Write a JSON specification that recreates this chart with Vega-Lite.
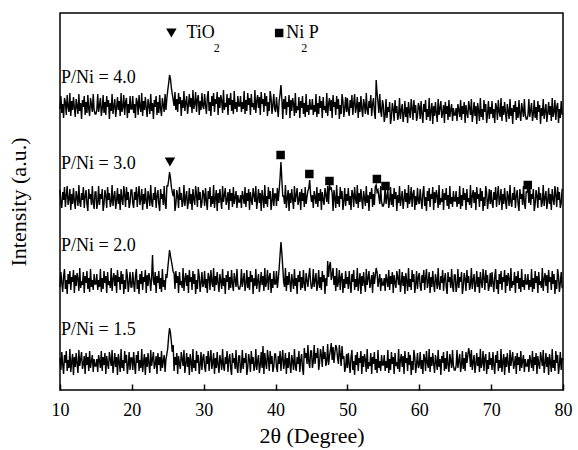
{
"$schema":"https://vega.github.io/schema/vega-lite/v6.json",
"width":503,"height":377,"autosize":"none",
"padding":{"left":60,"top":13,"right":15,"bottom":60},
"background":"white",
"config":{"view":{"stroke":"black","strokeWidth":1.5},"font":"Liberation Serif"},
"datasets":{
"xrd":[
{"x":10,"a":32,"b":103,"c":200,"d":281},{"x":10.125,"a":20,"b":118,"c":187,"d":294},{"x":10.25,"a":38,"b":107,"c":182,"d":277},{"x":10.375,"a":25,"b":98,"c":198,"d":286},{"x":10.5,"a":16,"b":114,"c":190,"d":272},{"x":10.625,"a":35,"b":121,"c":203,"d":292},{"x":10.75,"a":27,"b":101,"c":183,"d":288},{"x":10.875,"a":39,"b":110,"c":195,"d":275},
{"x":11,"a":19,"b":96,"c":204,"d":295},{"x":11.125,"a":30,"b":116,"c":185,"d":283},{"x":11.25,"a":22,"b":106,"c":191,"d":278},{"x":11.375,"a":41,"b":119,"c":201,"d":297},{"x":11.5,"a":18,"b":100,"c":180,"d":274},{"x":11.625,"a":28,"b":113,"c":196,"d":289},{"x":11.75,"a":36,"b":108,"c":186,"d":280},{"x":11.875,"a":15,"b":120,"c":202,"d":293},
{"x":12,"a":33,"b":97,"c":189,"d":282},{"x":12.125,"a":23,"b":115,"c":181,"d":273},{"x":12.25,"a":37,"b":104,"c":199,"d":291},{"x":12.375,"a":26,"b":117,"c":193,"d":284},{"x":12.5,"a":17,"b":111,"c":184,"d":276},{"x":12.625,"a":40,"b":99,"c":205,"d":296},{"x":12.75,"a":24,"b":122,"c":188,"d":279},{"x":12.875,"a":31,"b":102,"c":183,"d":287},
{"x":13,"a":38,"b":109,"c":197,"d":271},{"x":13.125,"a":21,"b":105,"c":190,"d":290},{"x":13.25,"a":26,"b":118,"c":203,"d":283},{"x":13.375,"a":34,"b":97,"c":182,"d":294},{"x":13.5,"a":16,"b":114,"c":194,"d":275},{"x":13.625,"a":37,"b":107,"c":200,"d":288},{"x":13.75,"a":25,"b":119,"c":186,"d":277},{"x":13.875,"a":33,"b":101,"c":179,"d":295},
{"x":14,"a":19,"b":112,"c":201,"d":281},{"x":14.125,"a":39,"b":98,"c":191,"d":274},{"x":14.25,"a":22,"b":121,"c":196,"d":292},{"x":14.375,"a":29,"b":103,"c":185,"d":285},{"x":14.5,"a":35,"b":110,"c":204,"d":278},{"x":14.625,"a":18,"b":100,"c":187,"d":296},{"x":14.75,"a":31,"b":116,"c":181,"d":280},{"x":14.875,"a":24,"b":106,"c":198,"d":276},
{"x":15,"a":24,"b":106,"c":198,"d":276},{"x":15.125,"a":31,"b":116,"c":181,"d":280},{"x":15.25,"a":18,"b":100,"c":187,"d":296},{"x":15.375,"a":35,"b":110,"c":204,"d":278},{"x":15.5,"a":29,"b":103,"c":185,"d":285},{"x":15.625,"a":22,"b":121,"c":196,"d":292},{"x":15.75,"a":39,"b":98,"c":191,"d":274},{"x":15.875,"a":19,"b":112,"c":201,"d":281},
{"x":16,"a":33,"b":101,"c":179,"d":295},{"x":16.125,"a":25,"b":119,"c":186,"d":277},{"x":16.25,"a":37,"b":107,"c":200,"d":288},{"x":16.375,"a":16,"b":114,"c":194,"d":275},{"x":16.5,"a":34,"b":97,"c":182,"d":294},{"x":16.625,"a":26,"b":118,"c":203,"d":283},{"x":16.75,"a":21,"b":105,"c":190,"d":290},{"x":16.875,"a":38,"b":109,"c":197,"d":271},
{"x":17,"a":31,"b":102,"c":183,"d":287},{"x":17.125,"a":24,"b":122,"c":188,"d":279},{"x":17.25,"a":40,"b":99,"c":205,"d":296},{"x":17.375,"a":17,"b":111,"c":184,"d":276},{"x":17.5,"a":26,"b":117,"c":193,"d":284},{"x":17.625,"a":37,"b":104,"c":199,"d":291},{"x":17.75,"a":23,"b":115,"c":181,"d":273},{"x":17.875,"a":33,"b":97,"c":189,"d":282},
{"x":18,"a":15,"b":120,"c":202,"d":293},{"x":18.125,"a":36,"b":108,"c":186,"d":280},{"x":18.25,"a":28,"b":113,"c":196,"d":289},{"x":18.375,"a":18,"b":100,"c":180,"d":274},{"x":18.5,"a":41,"b":119,"c":201,"d":297},{"x":18.625,"a":22,"b":106,"c":191,"d":278},{"x":18.75,"a":30,"b":116,"c":185,"d":283},{"x":18.875,"a":19,"b":96,"c":204,"d":295},
{"x":19,"a":39,"b":110,"c":195,"d":275},{"x":19.125,"a":27,"b":101,"c":183,"d":288},{"x":19.25,"a":35,"b":121,"c":203,"d":292},{"x":19.375,"a":16,"b":114,"c":190,"d":272},{"x":19.5,"a":25,"b":98,"c":198,"d":286},{"x":19.625,"a":38,"b":107,"c":182,"d":277},{"x":19.75,"a":20,"b":118,"c":187,"d":294},{"x":19.875,"a":32,"b":103,"c":200,"d":281},
{"x":20,"a":32,"b":103,"c":200,"d":281},{"x":20.125,"a":20,"b":118,"c":187,"d":294},{"x":20.25,"a":38,"b":107,"c":182,"d":277},{"x":20.375,"a":25,"b":98,"c":198,"d":286},{"x":20.5,"a":16,"b":114,"c":190,"d":272},{"x":20.625,"a":35,"b":121,"c":203,"d":292},{"x":20.75,"a":27,"b":101,"c":183,"d":288},{"x":20.875,"a":39,"b":110,"c":195,"d":275},
{"x":21,"a":19,"b":96,"c":204,"d":295},{"x":21.125,"a":30,"b":116,"c":185,"d":283},{"x":21.25,"a":22,"b":106,"c":191,"d":278},{"x":21.375,"a":41,"b":119,"c":201,"d":297},{"x":21.5,"a":18,"b":100,"c":180,"d":274},{"x":21.625,"a":28,"b":113,"c":196,"d":289},{"x":21.75,"a":36,"b":108,"c":186,"d":280},{"x":21.875,"a":15,"b":120,"c":202,"d":293},
{"x":22,"a":33,"b":97,"c":189,"d":282},{"x":22.125,"a":23,"b":115,"c":181,"d":273},{"x":22.25,"a":37,"b":104,"c":199,"d":291},{"x":22.375,"a":26,"b":117,"c":193,"d":284},{"x":22.5,"a":17,"b":111,"c":184,"d":276},{"x":22.625,"a":40,"b":99,"c":205,"d":296},{"x":22.75,"a":24,"b":112,"c":188,"d":279},{"x":22.875,"a":31,"b":135,"c":183,"d":287},
{"x":23,"a":38,"b":109,"c":197,"d":271},{"x":23.125,"a":21,"b":105,"c":190,"d":290},{"x":23.25,"a":26,"b":118,"c":203,"d":283},{"x":23.375,"a":34,"b":97,"c":182,"d":294},{"x":23.5,"a":16,"b":114,"c":194,"d":275},{"x":23.625,"a":37,"b":107,"c":200,"d":288},{"x":23.75,"a":25,"b":119,"c":186,"d":277},{"x":23.875,"a":33,"b":101,"c":179,"d":295},
{"x":24,"a":19,"b":112,"c":201,"d":281},{"x":24.125,"a":39,"b":98,"c":191,"d":274},{"x":24.25,"a":22,"b":121,"c":196,"d":292},{"x":24.375,"a":29,"b":103,"c":185,"d":285},{"x":24.5,"a":35,"b":110,"c":204,"d":278},{"x":24.625,"a":18,"b":100,"c":187,"d":296},{"x":24.75,"a":31,"b":116,"c":181,"d":280},{"x":24.875,"a":36,"b":112,"c":204,"d":292},
{"x":25,"a":42,"b":122,"c":204,"d":300},{"x":25.125,"a":54,"b":131,"c":210,"d":307},{"x":25.25,"a":62,"b":140,"c":218,"d":315},{"x":25.375,"a":57,"b":134,"c":212,"d":311},{"x":25.5,"a":48,"b":129,"c":203,"d":302},{"x":25.625,"a":38,"b":124,"c":198,"d":296},{"x":25.75,"a":45,"b":118,"c":194,"d":290},{"x":25.875,"a":19,"b":117,"c":201,"d":284},
{"x":26,"a":33,"b":101,"c":179,"d":298},{"x":26.125,"a":25,"b":119,"c":186,"d":280},{"x":26.25,"a":37,"b":107,"c":200,"d":291},{"x":26.375,"a":16,"b":114,"c":194,"d":278},{"x":26.5,"a":34,"b":97,"c":182,"d":297},{"x":26.625,"a":26,"b":118,"c":203,"d":286},{"x":26.75,"a":21,"b":105,"c":190,"d":293},{"x":26.875,"a":38,"b":109,"c":197,"d":274},
{"x":27,"a":31,"b":102,"c":183,"d":290},{"x":27.125,"a":24,"b":122,"c":188,"d":282},{"x":27.25,"a":40,"b":99,"c":205,"d":299},{"x":27.375,"a":17,"b":111,"c":184,"d":279},{"x":27.5,"a":26,"b":117,"c":193,"d":287},{"x":27.625,"a":37,"b":104,"c":199,"d":294},{"x":27.75,"a":23,"b":115,"c":181,"d":276},{"x":27.875,"a":33,"b":97,"c":189,"d":285},
{"x":28,"a":15,"b":120,"c":202,"d":296},{"x":28.125,"a":36,"b":108,"c":186,"d":283},{"x":28.25,"a":28,"b":113,"c":196,"d":292},{"x":28.375,"a":18,"b":100,"c":180,"d":277},{"x":28.5,"a":41,"b":119,"c":201,"d":300},{"x":28.625,"a":22,"b":106,"c":191,"d":281},{"x":28.75,"a":30,"b":116,"c":185,"d":286},{"x":28.875,"a":19,"b":96,"c":204,"d":298},
{"x":29,"a":39,"b":110,"c":195,"d":278},{"x":29.125,"a":27,"b":101,"c":183,"d":291},{"x":29.25,"a":35,"b":121,"c":203,"d":295},{"x":29.375,"a":16,"b":114,"c":190,"d":275},{"x":29.5,"a":25,"b":98,"c":198,"d":289},{"x":29.625,"a":38,"b":107,"c":182,"d":280},{"x":29.75,"a":20,"b":118,"c":187,"d":297},{"x":29.875,"a":32,"b":103,"c":200,"d":284},
{"x":30,"a":36,"b":106,"c":196,"d":281},{"x":30.125,"a":23,"b":119,"c":184,"d":296},{"x":30.25,"a":18,"b":102,"c":202,"d":285},{"x":30.375,"a":34,"b":111,"c":189,"d":276},{"x":30.5,"a":26,"b":97,"c":180,"d":292},{"x":30.625,"a":39,"b":117,"c":199,"d":299},{"x":30.75,"a":19,"b":113,"c":191,"d":279},{"x":30.875,"a":31,"b":100,"c":203,"d":288},
{"x":31,"a":40,"b":120,"c":183,"d":274},{"x":31.125,"a":21,"b":108,"c":194,"d":294},{"x":31.25,"a":27,"b":103,"c":186,"d":284},{"x":31.375,"a":37,"b":122,"c":205,"d":297},{"x":31.5,"a":16,"b":99,"c":182,"d":278},{"x":31.625,"a":32,"b":114,"c":192,"d":291},{"x":31.75,"a":22,"b":105,"c":200,"d":286},{"x":31.875,"a":38,"b":118,"c":179,"d":298},
{"x":32,"a":25,"b":107,"c":197,"d":275},{"x":32.125,"a":17,"b":98,"c":187,"d":293},{"x":32.25,"a":35,"b":116,"c":201,"d":282},{"x":32.375,"a":29,"b":109,"c":190,"d":295},{"x":32.5,"a":20,"b":101,"c":181,"d":289},{"x":32.625,"a":41,"b":121,"c":204,"d":277},{"x":32.75,"a":24,"b":104,"c":188,"d":300},{"x":32.875,"a":19,"b":112,"c":195,"d":280},
{"x":33,"a":33,"b":96,"c":202,"d":287},{"x":33.125,"a":26,"b":115,"c":185,"d":283},{"x":33.25,"a":39,"b":108,"c":190,"d":296},{"x":33.375,"a":18,"b":119,"c":198,"d":275},{"x":33.5,"a":30,"b":100,"c":180,"d":292},{"x":33.625,"a":36,"b":113,"c":201,"d":285},{"x":33.75,"a":22,"b":102,"c":189,"d":297},{"x":33.875,"a":15,"b":120,"c":197,"d":279},
{"x":34,"a":37,"b":106,"c":183,"d":290},{"x":34.125,"a":27,"b":99,"c":203,"d":276},{"x":34.25,"a":32,"b":117,"c":186,"d":299},{"x":34.375,"a":21,"b":110,"c":193,"d":281},{"x":34.5,"a":40,"b":103,"c":199,"d":288},{"x":34.625,"a":23,"b":121,"c":182,"d":278},{"x":34.75,"a":17,"b":105,"c":195,"d":294},{"x":34.875,"a":34,"b":101,"c":188,"d":284},
{"x":35,"a":34,"b":101,"c":188,"d":284},{"x":35.125,"a":17,"b":105,"c":195,"d":294},{"x":35.25,"a":23,"b":121,"c":182,"d":278},{"x":35.375,"a":40,"b":103,"c":199,"d":288},{"x":35.5,"a":21,"b":110,"c":193,"d":281},{"x":35.625,"a":32,"b":117,"c":186,"d":299},{"x":35.75,"a":27,"b":99,"c":203,"d":276},{"x":35.875,"a":37,"b":106,"c":183,"d":290},
{"x":36,"a":15,"b":120,"c":197,"d":279},{"x":36.125,"a":22,"b":102,"c":189,"d":297},{"x":36.25,"a":36,"b":113,"c":201,"d":285},{"x":36.375,"a":30,"b":100,"c":180,"d":292},{"x":36.5,"a":18,"b":119,"c":198,"d":275},{"x":36.625,"a":39,"b":108,"c":190,"d":296},{"x":36.75,"a":26,"b":115,"c":185,"d":283},{"x":36.875,"a":33,"b":96,"c":202,"d":287},
{"x":37,"a":19,"b":112,"c":195,"d":280},{"x":37.125,"a":24,"b":104,"c":188,"d":300},{"x":37.25,"a":41,"b":121,"c":204,"d":277},{"x":37.375,"a":20,"b":101,"c":181,"d":289},{"x":37.5,"a":29,"b":109,"c":190,"d":295},{"x":37.625,"a":35,"b":116,"c":201,"d":282},{"x":37.75,"a":17,"b":98,"c":187,"d":293},{"x":37.875,"a":25,"b":107,"c":197,"d":275},
{"x":38,"a":38,"b":118,"c":179,"d":298},{"x":38.125,"a":22,"b":105,"c":200,"d":286},{"x":38.25,"a":44,"b":114,"c":192,"d":291},{"x":38.375,"a":16,"b":99,"c":182,"d":278},{"x":38.5,"a":37,"b":122,"c":205,"d":297},{"x":38.625,"a":27,"b":103,"c":186,"d":284},{"x":38.75,"a":21,"b":108,"c":194,"d":294},{"x":38.875,"a":40,"b":120,"c":183,"d":274},
{"x":39,"a":31,"b":100,"c":203,"d":288},{"x":39.125,"a":19,"b":113,"c":191,"d":279},{"x":39.25,"a":39,"b":117,"c":199,"d":299},{"x":39.375,"a":26,"b":97,"c":180,"d":292},{"x":39.5,"a":34,"b":111,"c":189,"d":276},{"x":39.625,"a":18,"b":102,"c":202,"d":285},{"x":39.75,"a":23,"b":119,"c":184,"d":296},{"x":39.875,"a":36,"b":106,"c":196,"d":281},
{"x":40,"a":36,"b":106,"c":196,"d":278},{"x":40.125,"a":23,"b":119,"c":184,"d":293},{"x":40.25,"a":18,"b":102,"c":202,"d":282},{"x":40.375,"a":34,"b":111,"c":189,"d":273},{"x":40.5,"a":26,"b":122,"c":200,"d":289},{"x":40.625,"a":39,"b":135,"c":212,"d":296},{"x":40.75,"a":19,"b":148,"c":228,"d":305},{"x":40.875,"a":31,"b":137,"c":210,"d":291},
{"x":41,"a":40,"b":123,"c":194,"d":271},{"x":41.125,"a":21,"b":108,"c":194,"d":291},{"x":41.25,"a":27,"b":103,"c":186,"d":281},{"x":41.375,"a":37,"b":122,"c":205,"d":294},{"x":41.5,"a":16,"b":99,"c":182,"d":275},{"x":41.625,"a":32,"b":114,"c":192,"d":288},{"x":41.75,"a":22,"b":105,"c":200,"d":283},{"x":41.875,"a":38,"b":118,"c":179,"d":295},
{"x":42,"a":25,"b":107,"c":197,"d":272},{"x":42.125,"a":17,"b":98,"c":187,"d":290},{"x":42.25,"a":35,"b":116,"c":201,"d":279},{"x":42.375,"a":29,"b":109,"c":190,"d":292},{"x":42.5,"a":20,"b":101,"c":181,"d":286},{"x":42.625,"a":41,"b":121,"c":204,"d":274},{"x":42.75,"a":24,"b":104,"c":188,"d":297},{"x":42.875,"a":19,"b":112,"c":195,"d":277},
{"x":43,"a":33,"b":96,"c":202,"d":284},{"x":43.125,"a":26,"b":115,"c":185,"d":280},{"x":43.25,"a":39,"b":108,"c":190,"d":293},{"x":43.375,"a":18,"b":119,"c":198,"d":272},{"x":43.5,"a":30,"b":100,"c":180,"d":289},{"x":43.625,"a":36,"b":113,"c":201,"d":282},{"x":43.75,"a":22,"b":102,"c":189,"d":294},{"x":43.875,"a":15,"b":120,"c":197,"d":276},
{"x":44,"a":42,"b":106,"c":183,"d":287},{"x":44.125,"a":32,"b":99,"c":203,"d":273},{"x":44.25,"a":37,"b":117,"c":186,"d":296},{"x":44.375,"a":26,"b":110,"c":193,"d":278},{"x":44.5,"a":45,"b":103,"c":199,"d":285},{"x":44.625,"a":28,"b":114,"c":202,"d":275},{"x":44.75,"a":22,"b":122,"c":210,"d":291},{"x":44.875,"a":39,"b":108,"c":196,"d":281},
{"x":45,"a":39,"b":101,"c":188,"d":281},{"x":45.125,"a":22,"b":105,"c":195,"d":291},{"x":45.25,"a":28,"b":121,"c":182,"d":275},{"x":45.375,"a":45,"b":103,"c":199,"d":285},{"x":45.5,"a":26,"b":110,"c":193,"d":278},{"x":45.625,"a":37,"b":117,"c":186,"d":296},{"x":45.75,"a":32,"b":99,"c":203,"d":273},{"x":45.875,"a":42,"b":106,"c":183,"d":287},
{"x":46,"a":20,"b":120,"c":197,"d":276},{"x":46.125,"a":27,"b":102,"c":189,"d":294},{"x":46.25,"a":41,"b":113,"c":201,"d":282},{"x":46.375,"a":35,"b":100,"c":180,"d":289},{"x":46.5,"a":23,"b":119,"c":198,"d":272},{"x":46.625,"a":44,"b":108,"c":190,"d":293},{"x":46.75,"a":31,"b":115,"c":185,"d":280},{"x":46.875,"a":38,"b":96,"c":202,"d":284},
{"x":47,"a":24,"b":112,"c":195,"d":277},{"x":47.125,"a":29,"b":104,"c":188,"d":297},{"x":47.25,"a":46,"b":129,"c":204,"d":274},{"x":47.375,"a":25,"b":113,"c":186,"d":286},{"x":47.5,"a":34,"b":124,"c":205,"d":292},{"x":47.625,"a":40,"b":128,"c":201,"d":279},{"x":47.75,"a":47,"b":110,"c":202,"d":290},{"x":47.875,"a":30,"b":115,"c":197,"d":272},
{"x":48,"a":43,"b":122,"c":179,"d":295},{"x":48.125,"a":27,"b":105,"c":200,"d":283},{"x":48.25,"a":37,"b":114,"c":192,"d":288},{"x":48.375,"a":45,"b":99,"c":182,"d":275},{"x":48.5,"a":42,"b":122,"c":205,"d":294},{"x":48.625,"a":32,"b":103,"c":186,"d":281},{"x":48.75,"a":26,"b":108,"c":194,"d":291},{"x":48.875,"a":45,"b":120,"c":183,"d":271},
{"x":49,"a":36,"b":100,"c":203,"d":285},{"x":49.125,"a":24,"b":113,"c":191,"d":276},{"x":49.25,"a":44,"b":117,"c":199,"d":296},{"x":49.375,"a":31,"b":97,"c":180,"d":289},{"x":49.5,"a":34,"b":111,"c":189,"d":273},{"x":49.625,"a":18,"b":102,"c":202,"d":282},{"x":49.75,"a":23,"b":119,"c":184,"d":293},{"x":49.875,"a":36,"b":106,"c":196,"d":278},
{"x":50,"a":22,"b":113,"c":189,"d":292},{"x":50.125,"a":37,"b":101,"c":202,"d":279},{"x":50.25,"a":26,"b":119,"c":185,"d":274},{"x":50.375,"a":17,"b":106,"c":194,"d":290},{"x":50.5,"a":33,"b":97,"c":180,"d":282},{"x":50.625,"a":40,"b":116,"c":200,"d":295},{"x":50.75,"a":20,"b":108,"c":196,"d":275},{"x":50.875,"a":29,"b":120,"c":183,"d":287},
{"x":51,"a":15,"b":100,"c":203,"d":296},{"x":51.125,"a":35,"b":111,"c":191,"d":277},{"x":51.25,"a":25,"b":103,"c":186,"d":283},{"x":51.375,"a":38,"b":122,"c":205,"d":293},{"x":51.5,"a":19,"b":99,"c":182,"d":272},{"x":51.625,"a":32,"b":109,"c":197,"d":288},{"x":51.75,"a":27,"b":117,"c":188,"d":278},{"x":51.875,"a":39,"b":96,"c":201,"d":294},
{"x":52,"a":16,"b":114,"c":190,"d":281},{"x":52.125,"a":34,"b":104,"c":181,"d":273},{"x":52.25,"a":23,"b":118,"c":199,"d":291},{"x":52.375,"a":36,"b":107,"c":192,"d":285},{"x":52.5,"a":30,"b":98,"c":184,"d":276},{"x":52.625,"a":18,"b":121,"c":204,"d":297},{"x":52.75,"a":41,"b":105,"c":187,"d":280},{"x":52.875,"a":21,"b":112,"c":195,"d":275},
{"x":53,"a":28,"b":119,"c":179,"d":289},{"x":53.125,"a":24,"b":102,"c":198,"d":282},{"x":53.25,"a":37,"b":107,"c":191,"d":295},{"x":53.375,"a":16,"b":115,"c":202,"d":274},{"x":53.5,"a":33,"b":97,"c":183,"d":286},{"x":53.625,"a":26,"b":118,"c":196,"d":292},{"x":53.75,"a":38,"b":106,"c":185,"d":278},{"x":53.875,"a":20,"b":114,"c":203,"d":271},
{"x":54,"a":31,"b":122,"c":205,"d":310},{"x":54.125,"a":17,"b":118,"c":198,"d":297},{"x":54.25,"a":40,"b":103,"c":200,"d":288},{"x":54.375,"a":22,"b":110,"c":193,"d":277},{"x":54.5,"a":29,"b":116,"c":186,"d":296},{"x":54.625,"a":19,"b":99,"c":204,"d":279},{"x":54.75,"a":35,"b":112,"c":188,"d":273},{"x":54.875,"a":25,"b":105,"c":184,"d":290},
{"x":55,"a":25,"b":105,"c":184,"d":285},{"x":55.125,"a":35,"b":112,"c":188,"d":268},{"x":55.25,"a":19,"b":99,"c":204,"d":274},{"x":55.375,"a":29,"b":116,"c":186,"d":291},{"x":55.5,"a":22,"b":110,"c":193,"d":272},{"x":55.625,"a":40,"b":103,"c":200,"d":283},{"x":55.75,"a":17,"b":120,"c":182,"d":278},{"x":55.875,"a":31,"b":100,"c":189,"d":288},
{"x":56,"a":20,"b":114,"c":203,"d":266},{"x":56.125,"a":38,"b":106,"c":185,"d":273},{"x":56.25,"a":26,"b":118,"c":196,"d":287},{"x":56.375,"a":33,"b":97,"c":183,"d":281},{"x":56.5,"a":16,"b":115,"c":202,"d":269},{"x":56.625,"a":37,"b":107,"c":191,"d":290},{"x":56.75,"a":24,"b":102,"c":198,"d":277},{"x":56.875,"a":28,"b":119,"c":179,"d":284},
{"x":57,"a":21,"b":112,"c":195,"d":270},{"x":57.125,"a":41,"b":105,"c":187,"d":275},{"x":57.25,"a":18,"b":121,"c":204,"d":292},{"x":57.375,"a":30,"b":98,"c":184,"d":271},{"x":57.5,"a":36,"b":107,"c":192,"d":280},{"x":57.625,"a":23,"b":118,"c":199,"d":286},{"x":57.75,"a":34,"b":104,"c":181,"d":268},{"x":57.875,"a":16,"b":114,"c":190,"d":276},
{"x":58,"a":39,"b":96,"c":201,"d":289},{"x":58.125,"a":27,"b":117,"c":188,"d":273},{"x":58.25,"a":32,"b":109,"c":197,"d":283},{"x":58.375,"a":19,"b":99,"c":182,"d":267},{"x":58.5,"a":38,"b":122,"c":205,"d":288},{"x":58.625,"a":25,"b":103,"c":186,"d":278},{"x":58.75,"a":35,"b":111,"c":191,"d":272},{"x":58.875,"a":15,"b":100,"c":203,"d":291},
{"x":59,"a":29,"b":120,"c":183,"d":282},{"x":59.125,"a":20,"b":108,"c":196,"d":270},{"x":59.25,"a":40,"b":116,"c":200,"d":290},{"x":59.375,"a":33,"b":97,"c":180,"d":277},{"x":59.5,"a":17,"b":106,"c":194,"d":285},{"x":59.625,"a":26,"b":119,"c":185,"d":269},{"x":59.75,"a":37,"b":101,"c":202,"d":274},{"x":59.875,"a":22,"b":113,"c":189,"d":287},
{"x":60,"a":25,"b":117,"c":186,"d":283},{"x":60.125,"a":38,"b":104,"c":201,"d":271},{"x":60.25,"a":21,"b":99,"c":190,"d":289},{"x":60.375,"a":30,"b":115,"c":181,"d":276},{"x":60.5,"a":16,"b":107,"c":197,"d":267},{"x":60.625,"a":36,"b":120,"c":204,"d":286},{"x":60.75,"a":32,"b":100,"c":184,"d":278},{"x":60.875,"a":19,"b":112,"c":193,"d":290},
{"x":61,"a":39,"b":121,"c":179,"d":270},{"x":61.125,"a":27,"b":102,"c":199,"d":281},{"x":61.25,"a":22,"b":108,"c":189,"d":273},{"x":61.375,"a":41,"b":118,"c":202,"d":292},{"x":61.5,"a":18,"b":97,"c":183,"d":269},{"x":61.625,"a":33,"b":113,"c":196,"d":279},{"x":61.75,"a":24,"b":103,"c":191,"d":287},{"x":61.875,"a":37,"b":119,"c":203,"d":266},
{"x":62,"a":26,"b":106,"c":180,"d":284},{"x":62.125,"a":17,"b":98,"c":198,"d":274},{"x":62.25,"a":35,"b":116,"c":187,"d":288},{"x":62.375,"a":28,"b":110,"c":200,"d":277},{"x":62.5,"a":20,"b":101,"c":194,"d":268},{"x":62.625,"a":40,"b":122,"c":182,"d":291},{"x":62.75,"a":23,"b":105,"c":205,"d":275},{"x":62.875,"a":31,"b":100,"c":185,"d":282},
{"x":63,"a":15,"b":114,"c":192,"d":289},{"x":63.125,"a":34,"b":107,"c":188,"d":272},{"x":63.25,"a":27,"b":120,"c":201,"d":277},{"x":63.375,"a":38,"b":99,"c":180,"d":285},{"x":63.5,"a":19,"b":111,"c":197,"d":267},{"x":63.625,"a":32,"b":117,"c":190,"d":288},{"x":63.75,"a":21,"b":103,"c":202,"d":276},{"x":63.875,"a":39,"b":96,"c":184,"d":284},
{"x":64,"a":25,"b":118,"c":195,"d":270},{"x":64.125,"a":18,"b":108,"c":181,"d":290},{"x":64.25,"a":36,"b":113,"c":204,"d":273},{"x":64.375,"a":29,"b":102,"c":186,"d":280},{"x":64.5,"a":22,"b":121,"c":193,"d":286},{"x":64.625,"a":40,"b":104,"c":183,"d":269},{"x":64.75,"a":24,"b":98,"c":199,"d":282},{"x":64.875,"a":20,"b":115,"c":189,"d":275},
{"x":65,"a":20,"b":115,"c":189,"d":275},{"x":65.125,"a":24,"b":98,"c":199,"d":282},{"x":65.25,"a":40,"b":104,"c":183,"d":269},{"x":65.375,"a":22,"b":121,"c":193,"d":286},{"x":65.5,"a":29,"b":102,"c":186,"d":280},{"x":65.625,"a":36,"b":113,"c":204,"d":273},{"x":65.75,"a":18,"b":108,"c":181,"d":290},{"x":65.875,"a":25,"b":118,"c":195,"d":270},
{"x":66,"a":39,"b":96,"c":184,"d":284},{"x":66.125,"a":21,"b":103,"c":202,"d":276},{"x":66.25,"a":32,"b":117,"c":190,"d":288},{"x":66.375,"a":19,"b":111,"c":197,"d":267},{"x":66.5,"a":38,"b":99,"c":180,"d":285},{"x":66.625,"a":27,"b":120,"c":201,"d":277},{"x":66.75,"a":34,"b":107,"c":188,"d":272},{"x":66.875,"a":42,"b":114,"c":192,"d":289},
{"x":67,"a":36,"b":100,"c":185,"d":282},{"x":67.125,"a":23,"b":105,"c":205,"d":275},{"x":67.25,"a":40,"b":122,"c":182,"d":291},{"x":67.375,"a":20,"b":101,"c":194,"d":268},{"x":67.5,"a":28,"b":110,"c":200,"d":277},{"x":67.625,"a":35,"b":116,"c":187,"d":288},{"x":67.75,"a":17,"b":98,"c":198,"d":274},{"x":67.875,"a":26,"b":106,"c":180,"d":284},
{"x":68,"a":37,"b":119,"c":203,"d":266},{"x":68.125,"a":24,"b":103,"c":191,"d":287},{"x":68.25,"a":33,"b":113,"c":196,"d":279},{"x":68.375,"a":18,"b":97,"c":183,"d":269},{"x":68.5,"a":41,"b":118,"c":202,"d":292},{"x":68.625,"a":22,"b":108,"c":189,"d":273},{"x":68.75,"a":27,"b":102,"c":199,"d":281},{"x":68.875,"a":39,"b":121,"c":179,"d":270},
{"x":69,"a":19,"b":112,"c":193,"d":290},{"x":69.125,"a":32,"b":100,"c":184,"d":278},{"x":69.25,"a":36,"b":120,"c":204,"d":286},{"x":69.375,"a":16,"b":107,"c":197,"d":267},{"x":69.5,"a":30,"b":115,"c":181,"d":276},{"x":69.625,"a":21,"b":99,"c":190,"d":289},{"x":69.75,"a":38,"b":104,"c":201,"d":271},{"x":69.875,"a":25,"b":117,"c":186,"d":283},
{"x":70,"a":32,"b":103,"c":200,"d":276},{"x":70.125,"a":20,"b":118,"c":187,"d":289},{"x":70.25,"a":38,"b":107,"c":182,"d":272},{"x":70.375,"a":25,"b":98,"c":198,"d":281},{"x":70.5,"a":16,"b":114,"c":190,"d":267},{"x":70.625,"a":35,"b":121,"c":203,"d":287},{"x":70.75,"a":27,"b":101,"c":183,"d":283},{"x":70.875,"a":39,"b":110,"c":195,"d":270},
{"x":71,"a":19,"b":96,"c":204,"d":290},{"x":71.125,"a":30,"b":116,"c":185,"d":278},{"x":71.25,"a":22,"b":106,"c":191,"d":273},{"x":71.375,"a":41,"b":119,"c":201,"d":292},{"x":71.5,"a":18,"b":100,"c":180,"d":269},{"x":71.625,"a":28,"b":113,"c":196,"d":284},{"x":71.75,"a":36,"b":108,"c":186,"d":275},{"x":71.875,"a":15,"b":120,"c":202,"d":288},
{"x":72,"a":33,"b":97,"c":189,"d":277},{"x":72.125,"a":23,"b":115,"c":181,"d":268},{"x":72.25,"a":37,"b":104,"c":199,"d":286},{"x":72.375,"a":26,"b":117,"c":193,"d":279},{"x":72.5,"a":17,"b":111,"c":184,"d":271},{"x":72.625,"a":40,"b":99,"c":205,"d":291},{"x":72.75,"a":24,"b":122,"c":188,"d":274},{"x":72.875,"a":31,"b":102,"c":183,"d":282},
{"x":73,"a":38,"b":109,"c":197,"d":266},{"x":73.125,"a":21,"b":105,"c":190,"d":285},{"x":73.25,"a":26,"b":118,"c":203,"d":278},{"x":73.375,"a":34,"b":97,"c":182,"d":289},{"x":73.5,"a":16,"b":114,"c":194,"d":270},{"x":73.625,"a":37,"b":107,"c":200,"d":283},{"x":73.75,"a":25,"b":119,"c":186,"d":272},{"x":73.875,"a":33,"b":101,"c":179,"d":290},
{"x":74,"a":19,"b":112,"c":201,"d":276},{"x":74.125,"a":39,"b":98,"c":191,"d":269},{"x":74.25,"a":22,"b":121,"c":196,"d":287},{"x":74.375,"a":29,"b":103,"c":185,"d":280},{"x":74.5,"a":35,"b":110,"c":204,"d":273},{"x":74.625,"a":18,"b":100,"c":187,"d":291},{"x":74.75,"a":31,"b":116,"c":181,"d":275},{"x":74.875,"a":24,"b":106,"c":198,"d":271},
{"x":75,"a":24,"b":106,"c":198,"d":271},{"x":75.125,"a":31,"b":116,"c":203,"d":275},{"x":75.25,"a":18,"b":100,"c":187,"d":291},{"x":75.375,"a":35,"b":110,"c":204,"d":273},{"x":75.5,"a":29,"b":103,"c":185,"d":280},{"x":75.625,"a":22,"b":121,"c":196,"d":287},{"x":75.75,"a":39,"b":98,"c":191,"d":269},{"x":75.875,"a":19,"b":112,"c":201,"d":276},
{"x":76,"a":33,"b":101,"c":179,"d":290},{"x":76.125,"a":25,"b":119,"c":186,"d":272},{"x":76.25,"a":37,"b":107,"c":200,"d":283},{"x":76.375,"a":16,"b":114,"c":194,"d":270},{"x":76.5,"a":34,"b":97,"c":182,"d":289},{"x":76.625,"a":26,"b":118,"c":203,"d":278},{"x":76.75,"a":21,"b":105,"c":190,"d":285},{"x":76.875,"a":38,"b":109,"c":197,"d":266},
{"x":77,"a":31,"b":102,"c":183,"d":282},{"x":77.125,"a":24,"b":122,"c":188,"d":274},{"x":77.25,"a":40,"b":99,"c":205,"d":291},{"x":77.375,"a":17,"b":111,"c":184,"d":271},{"x":77.5,"a":26,"b":117,"c":193,"d":279},{"x":77.625,"a":37,"b":104,"c":199,"d":286},{"x":77.75,"a":23,"b":115,"c":181,"d":268},{"x":77.875,"a":33,"b":97,"c":189,"d":277},
{"x":78,"a":15,"b":120,"c":202,"d":288},{"x":78.125,"a":36,"b":108,"c":186,"d":275},{"x":78.25,"a":28,"b":113,"c":196,"d":284},{"x":78.375,"a":18,"b":100,"c":180,"d":269},{"x":78.5,"a":41,"b":119,"c":201,"d":292},{"x":78.625,"a":22,"b":106,"c":191,"d":273},{"x":78.75,"a":30,"b":116,"c":185,"d":278},{"x":78.875,"a":19,"b":96,"c":204,"d":290},
{"x":79,"a":39,"b":110,"c":195,"d":270},{"x":79.125,"a":27,"b":101,"c":183,"d":283},{"x":79.25,"a":35,"b":121,"c":203,"d":287},{"x":79.375,"a":16,"b":114,"c":190,"d":267},{"x":79.5,"a":25,"b":98,"c":198,"d":281},{"x":79.625,"a":38,"b":107,"c":182,"d":272},{"x":79.75,"a":20,"b":118,"c":187,"d":289},{"x":79.875,"a":32,"b":103,"c":200,"d":276},
{"x":80,"a":30,"b":104,"c":199,"d":276}
],
"labels":[
{"x":10.15,"y":312,"t":"P/Ni = 4.0"},{"x":10.15,"y":226,"t":"P/Ni = 3.0"},{"x":10.15,"y":144,"t":"P/Ni = 2.0"},{"x":10.15,"y":60,"t":"P/Ni = 1.5"},
{"x":27.6,"y":357,"t":"TiO"},{"x":41.5,"y":357,"t":"Ni"},{"x":44.6,"y":357,"t":"P"}
],
"subs":[{"x":31.8,"y":342,"t":"2"},{"x":44.0,"y":342,"t":"2"}],
"tri":[{"x":25.5,"y":357},{"x":25.3,"y":228}],
"sq":[{"x":40.5,"y":357},{"x":40.7,"y":235},{"x":44.7,"y":216},{"x":47.5,"y":209},{"x":54.1,"y":211},{"x":55.3,"y":204},{"x":75.1,"y":205}]
},
"resolve":{"scale":{"y":"independent"}},
"layer":[
{"data":{"name":"xrd"},"mark":{"type":"line","color":"black","strokeWidth":1.4},
"encoding":{
"x":{"field":"x","type":"quantitative","scale":{"domain":[10,80],"nice":false,"zero":false},
"axis":{"values":[10,15,20,25,30,35,40,45,50,55,60,65,70,75,80],"labelExpr":"datum.value % 10 === 0 ? datum.label : ''",
"tickSize":{"condition":{"test":"datum.value % 10 === 0","value":-6},"value":-3},"tickColor":"black","tickWidth":1.5,
"domain":false,"grid":false,"labelFlush":false,"labelFont":"Liberation Serif","labelFontSize":18,"labelColor":"black","labelPadding":17,
"title":"2θ (Degree)","titleFont":"Liberation Serif","titleFontSize":22,"titleFontWeight":"normal","titleColor":"black","titlePadding":6}},
"y":{"field":"a","type":"quantitative","scale":{"domain":[0,377],"nice":false,"zero":false},
"axis":{"title":"Intensity (a.u.)","labels":false,"ticks":false,"domain":false,"grid":false,"titleFont":"Liberation Serif","titleFontSize":22,"titleFontWeight":"normal","titleColor":"black","titlePadding":30}}}},
{"data":{"name":"xrd"},"mark":{"type":"line","color":"black","strokeWidth":1.4},"encoding":{"x":{"field":"x","type":"quantitative"},"y":{"field":"b","type":"quantitative","scale":{"domain":[0,377],"nice":false,"zero":false},"axis":null}}},
{"data":{"name":"xrd"},"mark":{"type":"line","color":"black","strokeWidth":1.4},"encoding":{"x":{"field":"x","type":"quantitative"},"y":{"field":"c","type":"quantitative","scale":{"domain":[0,377],"nice":false,"zero":false},"axis":null}}},
{"data":{"name":"xrd"},"mark":{"type":"line","color":"black","strokeWidth":1.4},"encoding":{"x":{"field":"x","type":"quantitative"},"y":{"field":"d","type":"quantitative","scale":{"domain":[0,377],"nice":false,"zero":false},"axis":null}}},
{"data":{"name":"labels"},"mark":{"type":"text","align":"left","baseline":"middle","font":"Liberation Serif","fontSize":18,"color":"black"},
"encoding":{"x":{"field":"x","type":"quantitative"},"y":{"field":"y","type":"quantitative","scale":{"domain":[0,377],"nice":false,"zero":false},"axis":null},"text":{"field":"t"}}},
{"data":{"name":"subs"},"mark":{"type":"text","align":"center","baseline":"middle","font":"Liberation Serif","fontSize":12,"color":"black"},
"encoding":{"x":{"field":"x","type":"quantitative"},"y":{"field":"y","type":"quantitative","scale":{"domain":[0,377],"nice":false,"zero":false},"axis":null},"text":{"field":"t"}}},
{"data":{"name":"tri"},"mark":{"type":"point","shape":"triangle-down","filled":true,"color":"black","size":110,"opacity":1},
"encoding":{"x":{"field":"x","type":"quantitative"},"y":{"field":"y","type":"quantitative","scale":{"domain":[0,377],"nice":false,"zero":false},"axis":null}}},
{"data":{"name":"sq"},"mark":{"type":"point","shape":"square","filled":true,"color":"black","size":72,"opacity":1},
"encoding":{"x":{"field":"x","type":"quantitative"},"y":{"field":"y","type":"quantitative","scale":{"domain":[0,377],"nice":false,"zero":false},"axis":null}}}
]
}
